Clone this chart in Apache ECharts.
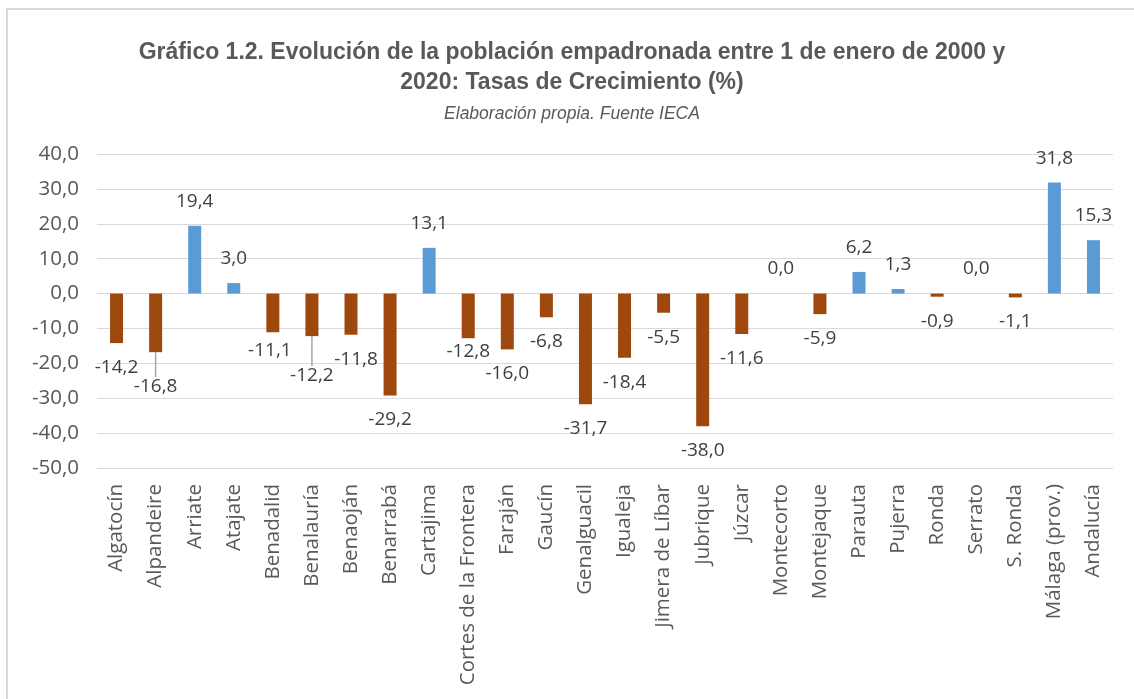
<!DOCTYPE html>
<html>
	<head>
		<meta charset="UTF-8">
		<title>Tasas de Crecimiento</title>
		<style>
			html, body { margin: 0; padding: 0; background: #fff; }
			#box { width: 1134px; height: 699px; }
		</style>
	</head>
	<body>
		<div id="box"></div>

		<script type="text/javascript" src="https://cdn.jsdelivr.net/npm/echarts@6/dist/echarts.min.js"></script>
		<script type="text/javascript">
			// municipios y tasas (%)
			var municipios = ['Algatocín', 'Alpandeire', 'Arriate', 'Atajate', 'Benadalid', 'Benalauría',
				'Benaoján', 'Benarrabá', 'Cartajima', 'Cortes de la Frontera', 'Faraján', 'Gaucín',
				'Genalguacil', 'Igualeja', 'Jimera de Líbar', 'Jubrique', 'Júzcar', 'Montecorto',
				'Montejaque', 'Parauta', 'Pujerra', 'Ronda', 'Serrato', 'S. Ronda', 'Málaga (prov.)', 'Andalucía'];
			var tasas = [-14.2, -16.8, 19.4, 3.0, -11.1, -12.2, -11.8, -29.2, 13.1, -12.8, -16.0, -6.8,
				-31.7, -18.4, -5.5, -38.0, -11.6, 0.0, -5.9, 6.2, 1.3, -0.9, 0.0, -1.1, 31.8, 15.3];
			var ejeY = [-50, 40, 10]; // min, max, intervalo

			// etiquetas que en el original estan desplazadas a mano
			var moverEtiqueta = { 1: [0, 10], 4: [-3, -6], 5: [0, 15], 6: [5, 0], 9: [0, -11] };
			var conLinea = [1, 5];

			var azul = '#5B9BD5', marron = '#9E480E', gris = '#595959';

			function coma(v) {
				return v.toFixed(1).replace('.', ',');
			}

			var datos = tasas.map(function (v, i) {
				return {
					value: v,
					itemStyle: { color: v < 0 ? marron : azul },
					label: { position: v < 0 ? 'bottom' : 'top' },
					labelLine: { show: conLinea.indexOf(i) >= 0 }
				};
			});

			var box = document.getElementById('box');
			var myechart = echarts.init(box);

			var option = {
				animation: false,
				graphic: [{
					type: 'rect',
					shape: { x: 7, y: 9, width: 1300, height: 900 },
					style: { fill: 'none', stroke: '#d9d9d9', lineWidth: 2 },
					silent: true
				}],
				title: [{
					text: 'Gráfico 1.2. Evolución de la población empadronada entre 1 de enero de 2000 y\n2020: Tasas de Crecimiento (%)',
					left: 567,
					top: 33,
					textAlign: 'center',
					textStyle: {
						fontFamily: 'Liberation Sans',
						fontWeight: 'bold',
						fontSize: 23,
						lineHeight: 30,
						color: gris
					}
				}, {
					text: 'Elaboración propia. Fuente IECA',
					left: 567,
					top: 100,
					textAlign: 'center',
					textStyle: {
						fontFamily: 'Liberation Sans',
						fontStyle: 'italic',
						fontWeight: 'normal',
						fontSize: 17.5,
						color: gris
					}
				}],
				grid: { left: 97, right: 21, top: 154, bottom: 231 },
				xAxis: {
					type: 'category',
					data: municipios,
					axisLine: { show: false },
					axisTick: { show: false },
					axisLabel: {
						rotate: 90,
						margin: 16,
						interval: 0,
						fontFamily: 'Open Sans',
						fontSize: 20.5,
						color: gris
					}
				},
				yAxis: {
					type: 'value',
					min: ejeY[0],
					max: ejeY[1],
					interval: ejeY[2],
					axisLine: { show: false },
					axisTick: { show: false },
					splitLine: { lineStyle: { color: '#d9d9d9', width: 1 } },
					axisLabel: {
						margin: 18,
						fontFamily: 'Open Sans',
						fontSize: 20.5,
						color: gris,
						formatter: function (v) { return coma(v); }
					}
				},
				series: [{
					type: 'bar',
					data: datos,
					barWidth: 13,
					label: {
						show: true,
						distance: 15,
						fontFamily: 'Open Sans',
						fontSize: 19,
						color: '#404040',
						formatter: function (p) { return coma(p.value); }
					},
					labelLine: {
						lineStyle: { color: '#a6a6a6', width: 1.5 }
					},
					labelLayout: function (p) {
						var m = moverEtiqueta[p.dataIndex];
						if (!m) return {};
						return { dx: m[0], dy: m[1] };
					}
				}]
			};

			myechart.setOption(option);
		</script>
	</body>
</html>
